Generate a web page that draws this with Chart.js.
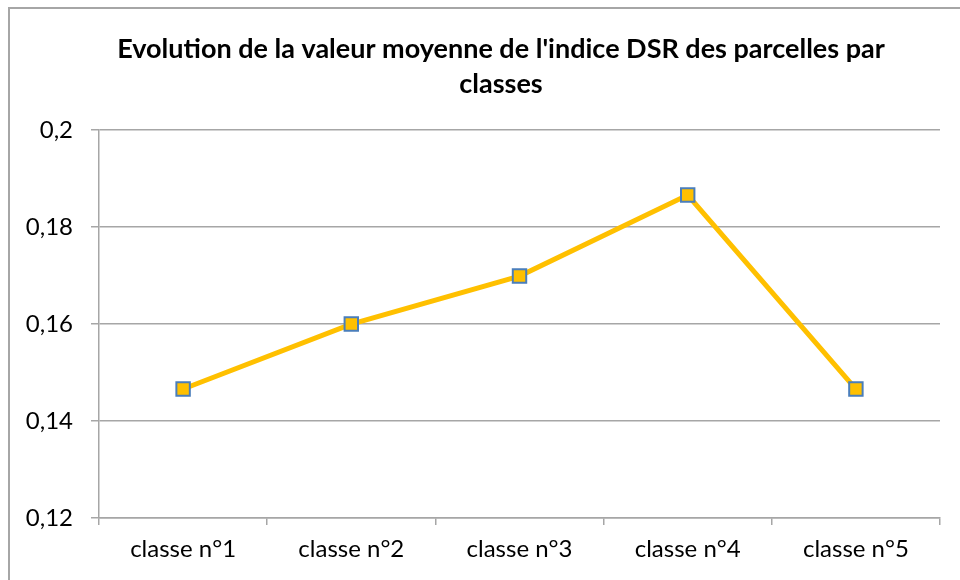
<!DOCTYPE html>
<html>
<head>
<meta charset="utf-8">
<script src="https://cdn.jsdelivr.net/npm/chart.js@4/dist/chart.umd.min.js"></script>
<style>
  html, body { margin: 0; padding: 0; background: #fff; }
  #wrap { position: relative; width: 960px; height: 580px; overflow: hidden; }
  #frame {
    position: absolute; left: 8px; top: 7px; width: 980px; height: 600px;
    border: 2px solid #a6a6a6; pointer-events: none; box-sizing: border-box;
  }
</style>
</head>
<body>
<div id="wrap">
  <canvas id="dsr" width="960" height="580"></canvas>
  <div id="frame"></div>
</div>
<script>
// Mean DSR index per plot class
const classes = ['classe n°1', 'classe n°2', 'classe n°3', 'classe n°4', 'classe n°5'];
const dsrMean = [0.1466, 0.1600, 0.1699, 0.1866, 0.1466];
const yTicks = [0.12, 0.14, 0.16, 0.18, 0.2];

const FONT = 'Lato, "Open Sans", sans-serif';
const GRID = '#a6a6a6';

// centre the title over the band 62..940 instead of the full canvas
const shiftTitle = {
  id: 'shiftTitle',
  afterLayout(chart) {
    const t = chart.titleBlock;
    if (t) { t.left = 62; t.right = 940; }
  },
};

new Chart(document.getElementById('dsr'), {
  type: 'line',
  data: {
    labels: classes,
    datasets: [{
      data: dsrMean,
      borderColor: '#ffc000',
      borderWidth: 5,
      pointStyle: 'rect',
      pointRadius: 9.5,
      pointBackgroundColor: '#ffc000',
      pointBorderColor: '#4a7ebb',
      pointBorderWidth: 2,
      tension: 0,
      fill: false,
    }],
  },
  plugins: [shiftTitle],
  options: {
    responsive: false,
    animation: false,
    layout: { padding: { top: 20, left: 0, right: 20, bottom: 0 } },
    plugins: {
      legend: { display: false },
      tooltip: { enabled: false },
      title: {
        display: true,
        text: ["Evolution de la valeur moyenne de l'indice DSR des parcelles par", 'classes'],
        color: '#000',
        font: { family: FONT, size: 27, weight: 'bold', lineHeight: 1.28 },
        padding: { top: 12, bottom: 29 },
      },
    },
    scales: {
      x: {
        type: 'category',
        offset: true,
        grid: {
          offset: true,
          drawOnChartArea: false,
          drawTicks: true,
          tickLength: 7,
          color: GRID,
          lineWidth: 1.5,
        },
        border: { display: true, color: GRID, width: 1.5 },
        ticks: { color: '#000', font: { family: FONT, size: 24 }, padding: 10 },
        afterFit(scale) { scale.height = 62; },
      },
      y: {
        min: 0.12,
        max: 0.2,
        afterBuildTicks(scale) { scale.ticks = yTicks.map(v => ({ value: v })); },
        grid: { color: GRID, lineWidth: 1.5, tickLength: 8 },
        border: { display: true, color: GRID, width: 1.5 },
        ticks: {
          color: '#000',
          font: { family: FONT, size: 24 },
          padding: 18,
          callback: v => String(+v.toFixed(2)).replace('.', ','),
        },
        afterFit(scale) { scale.width = 99; },
      },
    },
  },
});
</script>
</body>
</html>
